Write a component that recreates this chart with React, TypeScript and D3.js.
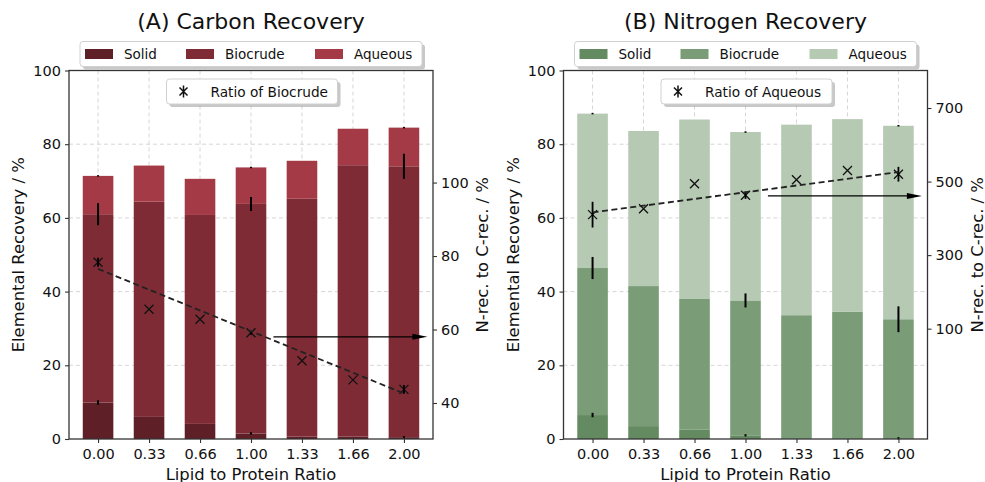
import React, { useEffect, useRef } from "react";
import * as d3 from "d3";

const categories = ["0.00", "0.33", "0.66", "1.00", "1.33", "1.66", "2.00"];
const seriesNames = ["Solid", "Biocrude", "Aqueous"];

// (A) carbon, stacked parts in %
const carbonSolid = [9.9, 6.0, 4.1, 1.5, 0.7, 0.7, 0.5];
const carbonBiocrude = [51.1, 58.4, 56.7, 62.3, 64.5, 73.6, 73.5];
const carbonAqueous = [10.4, 9.8, 9.8, 9.9, 10.3, 9.9, 10.5];
const carbonSolidErr = [0.6, null, null, 0.3, null, null, 0.3];
const carbonBiocrudeErr = [3.0, null, null, 1.9, null, null, 3.4];
const carbonAqueousErr = [0.2, null, null, 0.2, null, null, 0.2];
const carbonRatio = [78.3, 65.5, 62.8, 59.1, 51.5, 46.3, 43.7];
const carbonRatioErr = [1.2, null, null, 0.5, null, null, 1.2];
const carbonTrend = [76.5, 42.6];
const carbonArrowLevel = 58;
const carbonRightTicks = [40, 60, 80, 100];

// (B) nitrogen
const nitroSolid = [6.5, 3.5, 2.6, 1.0, 0.2, 0.2, 0.2];
const nitroBiocrude = [39.9, 38.0, 35.4, 36.6, 33.4, 34.3, 32.3];
const nitroAqueous = [41.9, 42.1, 48.7, 45.7, 51.7, 52.3, 52.5];
const nitroSolidErr = [0.6, null, null, 0.3, null, null, 0.3];
const nitroBiocrudeErr = [3.0, null, null, 1.9, null, null, 3.5];
const nitroAqueousErr = [0.2, null, null, 0.2, null, null, 0.2];
const nitroRatio = [410, 426, 494, 463, 505, 530, 520];
const nitroRatioErr = [35, null, null, 10, null, null, 20];
const nitroTrend = [416, 526];
const nitroArrowLevel = 461;
const nitroRightTicks = [100, 300, 500, 700];

const leftTicks = [0, 20, 40, 60, 80, 100];

const panels = [
  {
    title: "(A) Carbon Recovery",
    left: 69,
    colors: ["#5e1f27", "#7f2b35", "#a33a45"],
    parts: [carbonSolid, carbonBiocrude, carbonAqueous],
    errs: [carbonSolidErr, carbonBiocrudeErr, carbonAqueousErr],
    ratio: carbonRatio,
    ratioErr: carbonRatioErr,
    trend: carbonTrend,
    arrowLevel: carbonArrowLevel,
    rightDomain: [30.2, 130.5],
    rightTicks: carbonRightTicks,
    ratioLabel: "Ratio of Biocrude",
  },
  {
    title: "(B) Nitrogen Recovery",
    left: 563.5,
    colors: ["#648a62", "#7a9d78", "#b5c9b3"],
    parts: [nitroSolid, nitroBiocrude, nitroAqueous],
    errs: [nitroSolidErr, nitroBiocrudeErr, nitroAqueousErr],
    ratio: nitroRatio,
    ratioErr: nitroRatioErr,
    trend: nitroTrend,
    arrowLevel: nitroArrowLevel,
    rightDomain: [-200, 802],
    rightTicks: nitroRightTicks,
    ratioLabel: "Ratio of Aqueous",
  },
];

const W = 364;
const TOP = 70.5;
const H = 368.5;
const FONT = "DejaVu Sans, sans-serif";

function drawPanel(svg, p) {
  const g = svg.append("g").attr("transform", `translate(${p.left},${TOP})`);

  const x = d3.scaleLinear().domain([-0.57, 6.57]).range([0, W]);
  const y = d3.scaleLinear().domain([0, 100]).range([H, 0]);
  const yR = d3.scaleLinear().domain(p.rightDomain).range([H, 0]);
  const bw = x(0.6) - x(0);

  // grid
  g.selectAll(".hgrid")
    .data([20, 40, 60, 80])
    .enter()
    .append("line")
    .attr("x1", 0)
    .attr("x2", W)
    .attr("y1", (d) => y(d))
    .attr("y2", (d) => y(d))
    .attr("stroke", "#d6d6d6")
    .attr("stroke-dasharray", "4,3");
  g.selectAll(".vgrid")
    .data(categories)
    .enter()
    .append("line")
    .attr("x1", (d, i) => x(i))
    .attr("x2", (d, i) => x(i))
    .attr("y1", 0)
    .attr("y2", H)
    .attr("stroke", "#d6d6d6")
    .attr("stroke-dasharray", "4,3");

  // stacked bars
  const rows = categories.map((c, i) => {
    const r = {};
    seriesNames.forEach((k, j) => (r[k] = p.parts[j][i]));
    return r;
  });
  const stacked = d3.stack().keys(seriesNames)(rows);

  stacked.forEach((layer, j) => {
    g.selectAll(`.bar${j}`)
      .data(layer)
      .enter()
      .append("rect")
      .attr("x", (d, i) => x(i) - bw / 2)
      .attr("y", (d) => y(d[1]))
      .attr("width", bw)
      .attr("height", (d) => y(d[0]) - y(d[1]))
      .attr("fill", p.colors[j]);
  });

  stacked.forEach((layer, j) => {
    layer.forEach((d, i) => {
      const e = p.errs[j][i];
      if (e == null) return;
      g.append("line")
        .attr("x1", x(i))
        .attr("x2", x(i))
        .attr("y1", y(d[1] - e))
        .attr("y2", y(d[1] + e))
        .attr("stroke", "#000")
        .attr("stroke-width", 2);
    });
  });

  // ratio markers
  p.ratio.forEach((v, i) => {
    const cx = x(i);
    const cy = yR(v);
    const s = 4.5;
    g.append("path")
      .attr("d", `M${cx - s},${cy - s}L${cx + s},${cy + s}M${cx - s},${cy + s}L${cx + s},${cy - s}`)
      .attr("stroke", "#111")
      .attr("stroke-width", 1.3)
      .attr("fill", "none");
    const e = p.ratioErr[i];
    if (e != null) {
      g.append("line")
        .attr("x1", cx)
        .attr("x2", cx)
        .attr("y1", yR(v - e))
        .attr("y2", yR(v + e))
        .attr("stroke", "#000")
        .attr("stroke-width", 1.8);
    }
  });

  // trend line
  const trendPts = [
    [0, p.trend[0]],
    [categories.length - 1, p.trend[1]],
  ];
  g.append("path")
    .datum(trendPts)
    .attr("d", d3.line().x((d) => x(d[0])).y((d) => yR(d[1])))
    .attr("fill", "none")
    .attr("stroke", "#222")
    .attr("stroke-width", 1.8)
    .attr("stroke-dasharray", "6,3.5");

  // arrow pointing at the right axis
  const ay = yR(p.arrowLevel);
  const ax0 = x(3.44);
  const ax1 = x(6.46);
  g.append("line")
    .attr("x1", ax0)
    .attr("x2", ax1 - 12)
    .attr("y1", ay)
    .attr("y2", ay)
    .attr("stroke", "#000")
    .attr("stroke-width", 1.3);
  g.append("path")
    .attr("d", `M${ax1},${ay}L${ax1 - 15},${ay - 3}L${ax1 - 15},${ay + 3}Z`)
    .attr("fill", "#000");

  // spines
  g.append("rect")
    .attr("width", W)
    .attr("height", H)
    .attr("fill", "none")
    .attr("stroke", "#333")
    .attr("stroke-width", 1.3);

  const styleAxis = (a) => {
    a.select(".domain").remove();
    a.selectAll("line").attr("stroke", "#333").attr("stroke-width", 1.1);
    a.selectAll("text").attr("fill", "#111").style("font-size", "14.5px").style("font-family", FONT);
  };

  g.append("g")
    .call(d3.axisLeft(y).tickValues(leftTicks).tickSize(4).tickPadding(4))
    .call(styleAxis);
  g.append("g")
    .attr("transform", `translate(${W},0)`)
    .call(d3.axisRight(yR).tickValues(p.rightTicks).tickSize(4).tickPadding(4))
    .call(styleAxis);
  g.append("g")
    .attr("transform", `translate(0,${H})`)
    .call(
      d3
        .axisBottom(x)
        .tickValues(d3.range(categories.length))
        .tickFormat((i) => categories[i])
        .tickSize(4)
        .tickPadding(6)
    )
    .call(styleAxis);

  // labels
  g.append("text")
    .attr("x", W / 2)
    .attr("y", -41.5)
    .attr("text-anchor", "middle")
    .style("font-size", "22px")
    .style("font-family", FONT)
    .attr("fill", "#111")
    .text(p.title);

  g.append("text")
    .attr("transform", `translate(${-45},${H / 2}) rotate(-90)`)
    .attr("text-anchor", "middle")
    .style("font-size", "16.4px")
    .style("font-family", FONT)
    .attr("fill", "#111")
    .text("Elemental Recovery / %");

  g.append("text")
    .attr("transform", `translate(${W + 55},${H / 2}) rotate(-90)`)
    .attr("text-anchor", "middle")
    .style("font-size", "16.4px")
    .style("font-family", FONT)
    .attr("fill", "#111")
    .text("N-rec. to C-rec. / %");

  g.append("text")
    .attr("x", W / 2)
    .attr("y", H + 40.5)
    .attr("text-anchor", "middle")
    .style("font-size", "16.4px")
    .style("font-family", FONT)
    .attr("fill", "#111")
    .text("Lipid to Protein Ratio");

  // legend boxes
  const box = (bx, by, bw2, bh) => {
    const lg = g.append("g").attr("transform", `translate(${bx},${by})`);
    lg.append("rect")
      .attr("x", 3)
      .attr("y", 3)
      .attr("width", bw2)
      .attr("height", bh)
      .attr("rx", 3)
      .attr("fill", "#9a9a9a")
      .attr("opacity", 0.55);
    lg.append("rect")
      .attr("width", bw2)
      .attr("height", bh)
      .attr("rx", 3)
      .attr("fill", "#fff")
      .attr("stroke", "#d0d0d0");
    return lg;
  };

  const lw = 342;
  const top = box(W / 2 - lw / 2, -29, lw, 25);
  const patchX = [5, 106, 235];
  seriesNames.forEach((name, j) => {
    top.append("rect")
      .attr("x", patchX[j])
      .attr("y", 7.5)
      .attr("width", 28)
      .attr("height", 10)
      .attr("fill", p.colors[j]);
    top.append("text")
      .attr("x", patchX[j] + 39)
      .attr("y", 17.5)
      .style("font-size", "13.5px")
      .style("font-family", FONT)
      .attr("fill", "#111")
      .text(name);
  });

  const rw = 171;
  const rl = box(W / 2 - rw / 2 + 1, 8.5, rw, 25);
  const mx = 17;
  const my = 12.5;
  rl.append("path")
    .attr("d", `M${mx - 4},${my - 4}L${mx + 4},${my + 4}M${mx - 4},${my + 4}L${mx + 4},${my - 4}M${mx},${my - 6}L${mx},${my + 6}`)
    .attr("stroke", "#111")
    .attr("stroke-width", 1.5)
    .attr("fill", "none");
  rl.append("text")
    .attr("x", 44)
    .attr("y", 17.5)
    .style("font-size", "13.7px")
    .style("font-family", FONT)
    .attr("fill", "#111")
    .text(p.ratioLabel);
}

export default function App() {
  const svgRef = useRef(null);

  useEffect(() => {
    const svg = d3.select(svgRef.current);
    svg.selectAll("*").remove();
    panels.forEach((p) => drawPanel(svg, p));
  }, []);

  return (
    <svg
      ref={svgRef}
      width={985}
      height={482}
      style={{ position: "absolute", left: 0, top: 0, background: "#fff" }}
    />
  );
}
